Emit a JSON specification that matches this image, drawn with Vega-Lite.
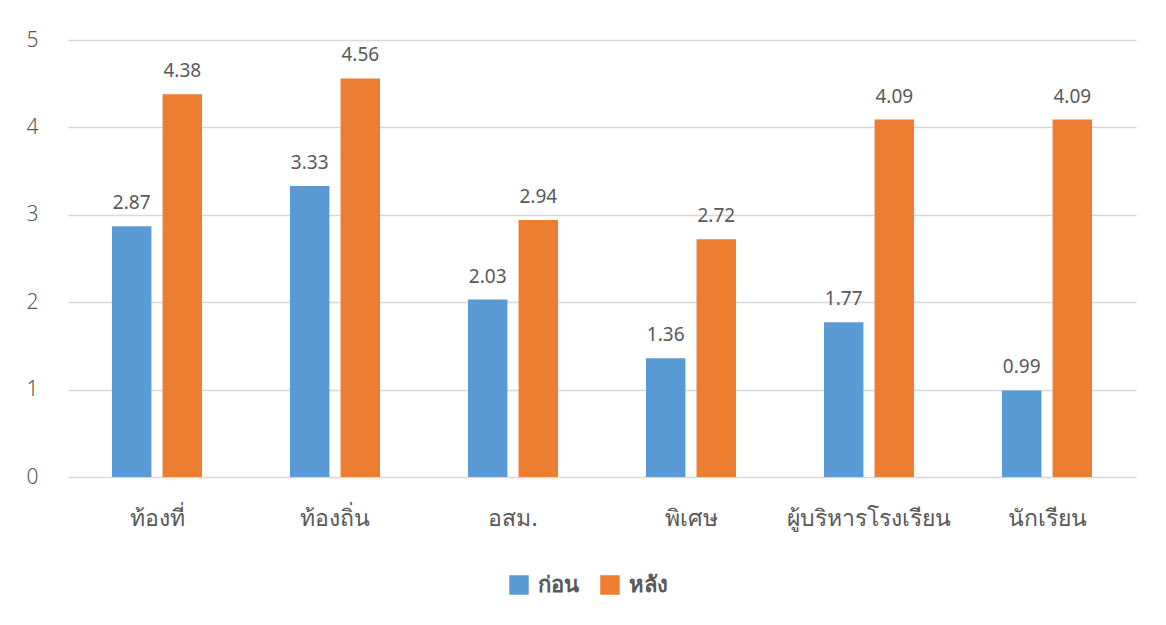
{
  "$schema": "https://vega.github.io/schema/vega-lite/v6.json",
  "autosize": "none",
  "width": 1068,
  "height": 437,
  "padding": {"left": 68, "top": 40, "right": 30, "bottom": 148},
  "background": "white",
  "config": {
    "view": {"stroke": null},
    "font": "Noto Sans"
  },
  "data": {
    "values": [
      {"group": "ท้องที่", "period": "ก่อน", "score": 2.87},
      {"group": "ท้องที่", "period": "หลัง", "score": 4.38},
      {"group": "ท้องถิ่น", "period": "ก่อน", "score": 3.33},
      {"group": "ท้องถิ่น", "period": "หลัง", "score": 4.56},
      {"group": "อสม.", "period": "ก่อน", "score": 2.03},
      {"group": "อสม.", "period": "หลัง", "score": 2.94},
      {"group": "พิเศษ", "period": "ก่อน", "score": 1.36},
      {"group": "พิเศษ", "period": "หลัง", "score": 2.72},
      {"group": "ผู้บริหารโรงเรียน", "period": "ก่อน", "score": 1.77},
      {"group": "ผู้บริหารโรงเรียน", "period": "หลัง", "score": 4.09},
      {"group": "นักเรียน", "period": "ก่อน", "score": 0.99},
      {"group": "นักเรียน", "period": "หลัง", "score": 4.09}
    ]
  },
  "encoding": {
    "x": {
      "field": "group", "type": "nominal", "sort": null,
      "scale": {"paddingInner": 0.494, "paddingOuter": 0.247},
      "axis": {"title": null, "labelAngle": 0, "domain": false, "ticks": false, "labelFontSize": 23, "labelColor": "#595959", "labelPadding": 30}
    },
    "xOffset": {"field": "period", "type": "nominal", "sort": ["ก่อน", "หลัง"], "scale": {"paddingInner": 0.22, "paddingOuter": 0}},
    "y": {
      "field": "score", "type": "quantitative",
      "scale": {"domain": [0, 5], "nice": false},
      "axis": {"title": null, "values": [0, 1, 2, 3, 4, 5], "labelOverlap": false, "domain": false, "ticks": false, "labelFontSize": 21, "labelFontWeight": 300, "labelColor": "#595959", "labelPadding": 30, "gridColor": "#d9d9d9", "gridWidth": 1.5}
    }
  },
  "layer": [
    {
      "mark": {"type": "bar"},
      "encoding": {
        "color": {
          "field": "period", "type": "nominal", "sort": ["ก่อน", "หลัง"],
          "scale": {"domain": ["ก่อน", "หลัง"], "range": ["#5B9BD5", "#ED7D31"]},
          "legend": {
            "title": null, "orient": "none", "direction": "horizontal",
            "legendX": 440, "legendY": 534,
            "symbolType": "square", "symbolSize": 380, "symbolStrokeWidth": 0,
            "labelFontSize": 22, "labelFontWeight": "bold", "labelColor": "#595959",
            "columnPadding": 20, "labelOffset": 8
          }
        }
      }
    },
    {
      "mark": {"type": "text", "baseline": "bottom", "dy": -13, "fontSize": 19, "color": "#595959"},
      "encoding": {
        "text": {"field": "score", "type": "quantitative", "format": ".2f"}
      }
    }
  ]
}
